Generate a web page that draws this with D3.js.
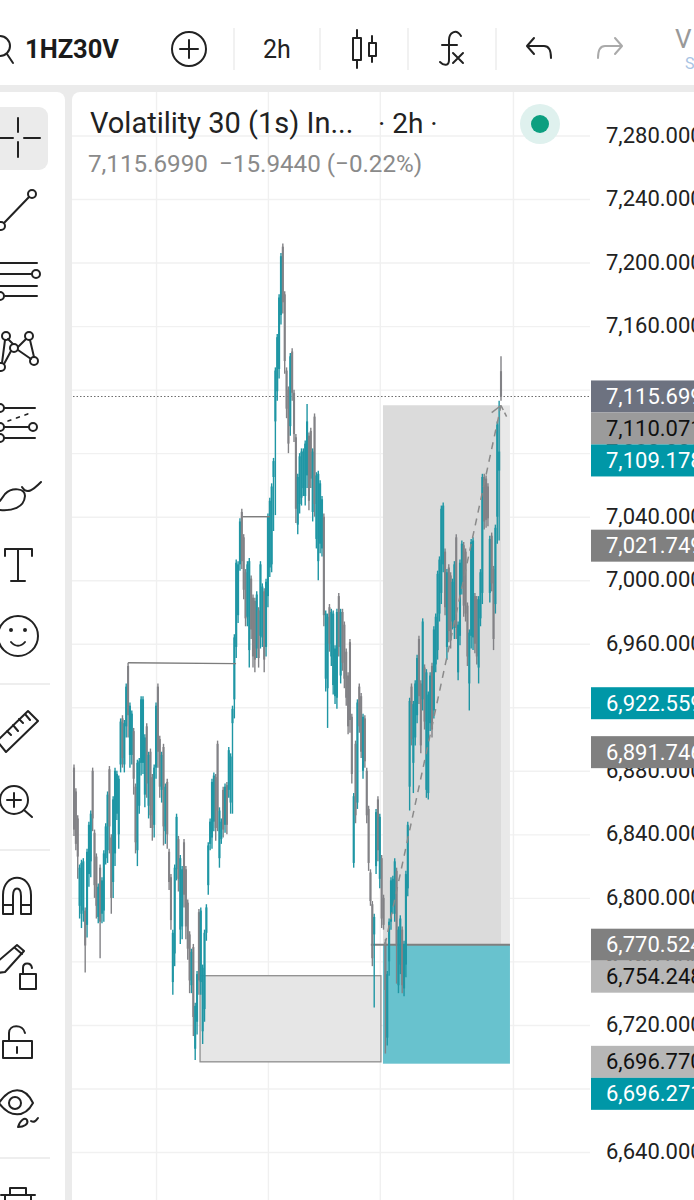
<!DOCTYPE html>
<html><head><meta charset="utf-8">
<script src="https://cdn.jsdelivr.net/npm/d3@7"></script>
<style>
html,body{margin:0;padding:0;background:#ebebeb;overflow:hidden}
svg{display:block;font-family:Roboto,sans-serif}
</style></head><body><div id="c"></div>
<script>
const highs=[
6884,6869,6852,6821,6824,6825,6794,6831,6848,6855,
6882,6843,6828,6809,6821,6813,6830,6847,6867,6883,
6840,6864,6882,6880,6877,6913,6915,6912,6935,6948,
6923,6918,6907,6872,6887,6888,6927,6927,6903,6910,
6892,6894,6878,6884,6923,6935,6902,6892,6897,6872,
6875,6831,6815,6780,6821,6853,6839,6827,6820,6837,
6820,6799,6779,6768,6771,6734,6754,6793,6794,6758,
6780,6796,6835,6850,6875,6879,6878,6899,6857,6850,
6870,6872,6873,6895,6891,6921,6966,7013,7012,7039,
7045,7029,7007,7012,7014,7003,6991,6989,6993,6983,
7012,6998,6995,7001,7042,7052,7061,7077,7134,7155,
7180,7206,7212,7182,7134,7122,7143,7146,7120,7092,
7067,7080,7083,7083,7088,7111,7093,7096,7083,7105,
7068,7069,7063,7053,7042,6981,6979,6985,6982,6981,
6959,6982,6992,6982,6982,6974,6957,6942,6963,6916,
6866,6899,6925,6935,6929,6916,6915,6882,6858,6818,
6798,6790,6856,6864,6853,6827,6802,6774,6754,6787,
6813,6814,6825,6819,6782,6789,6782,6773,6817,6848,
6926,6935,6924,6937,6953,6965,6937,6976,6947,6944,
6930,6942,6948,6971,6979,7006,7015,7047,7049,7020,
7007,7010,7005,7001,7012,7029,6974,7013,7025,7024,
7020,6986,6969,7026,7027,6992,6990,6990,7007,7067,
7067,7066,7061,7028,7030,7009,7035,7100,7113,7141];
const lows=[
6839,6830,6812,6787,6781,6785,6753,6775,6807,6813,
6842,6800,6787,6784,6762,6784,6785,6821,6822,6828,
6790,6800,6820,6849,6831,6879,6882,6879,6901,6901,
6882,6884,6865,6828,6820,6853,6877,6878,6857,6863,
6850,6844,6836,6838,6875,6882,6863,6860,6833,6834,
6831,6805,6780,6739,6757,6811,6804,6771,6774,6794,
6774,6761,6740,6740,6713,6698,6714,6739,6739,6708,
6722,6773,6802,6830,6831,6842,6836,6842,6819,6834,
6838,6841,6840,6863,6853,6853,6913,6951,6973,7006,
7007,6988,6971,6971,6945,6963,6945,6942,6951,6945,
6957,6958,6942,6952,6983,7002,7005,7031,7041,7113,
7127,7161,7168,7130,7102,7080,7091,7113,7087,7036,
7029,7042,7047,7053,7047,7058,7044,7058,7037,7040,
7020,7000,7017,7015,6971,6930,6907,6955,6946,6928,
6922,6919,6952,6935,6943,6932,6921,6903,6904,6872,
6819,6847,6856,6904,6888,6875,6882,6847,6817,6795,
6757,6731,6815,6823,6806,6781,6780,6702,6707,6751,
6780,6790,6785,6746,6740,6752,6740,6738,6750,6801,
6855,6896,6866,6896,6910,6922,6891,6918,6906,6863,
6862,6905,6901,6913,6942,6950,6974,6985,7005,6978,
6950,6961,6957,6969,6963,6963,6937,6959,6991,6977,
6974,6946,6918,6957,6956,6954,6947,6935,6971,6985,
7032,7033,7034,6986,6993,6956,6979,7023,7025,7113];
const opens=[
6882,6867,6850,6795,6790,6792,6792,6783,6815,6823,
6880,6841,6826,6788,6819,6790,6792,6825,6830,6881,
6838,6810,6828,6853,6840,6884,6913,6884,6908,6946,
6890,6890,6905,6870,6830,6858,6885,6885,6865,6908,
6858,6892,6876,6846,6882,6933,6900,6868,6895,6842,
6873,6829,6813,6747,6765,6818,6837,6780,6782,6835,
6818,6797,6777,6745,6769,6705,6722,6791,6747,6716,
6730,6778,6808,6834,6838,6848,6876,6897,6825,6837,
6868,6846,6871,6868,6860,6910,6925,6958,6978,7010,
7043,7027,7005,6977,6956,7001,6989,6987,6957,6981,
6965,6964,6993,6958,6990,7008,7010,7065,7100,7119,
7133,7167,7210,7180,7132,7120,7097,7144,7118,7090,
7035,7048,7052,7058,7053,7066,7091,7094,7043,7103,
7026,7012,7023,7020,7040,6938,6932,6983,6952,6934,
6927,6926,6990,6940,6980,6972,6955,6940,6961,6914,
6822,6897,6860,6933,6927,6880,6913,6880,6856,6816,
6796,6777,6820,6862,6812,6825,6800,6772,6712,6760,
6785,6795,6790,6817,6745,6758,6780,6743,6758,6806,
6870,6933,6885,6901,6915,6963,6935,6925,6945,6868,
6866,6910,6946,6918,6947,6956,6979,6992,7010,7018,
6958,7008,7003,6974,6970,7027,6942,6965,6996,7022,
7018,6984,6935,6965,6964,6990,6988,6945,6976,6992,
7065,7064,7059,6992,7028,7007,6985,7040,7069,7131.6];
const closes=[
6843,6834,6826,6819,6822,6823,6770,6829,6846,6853,
6850,6808,6795,6807,6785,6811,6828,6845,6865,6845,
6800,6862,6880,6878,6875,6911,6888,6910,6933,6915,
6921,6916,6875,6835,6885,6886,6925,6925,6901,6872,
6890,6852,6844,6882,6921,6892,6870,6890,6845,6870,
6840,6810,6786,6778,6819,6851,6812,6825,6818,6802,
6782,6768,6748,6766,6725,6732,6752,6748,6792,6756,
6778,6794,6833,6848,6873,6877,6844,6855,6855,6848,
6843,6870,6846,6893,6889,6919,6964,7011,7010,7037,
7012,6994,6976,7010,7012,6969,6952,6950,6991,6951,
7010,6996,6950,6999,7040,7050,7059,7075,7132,7153,
7178,7204,7175,7138,7108,7086,7141,7118,7092,7045,
7065,7078,7081,7081,7086,7100,7050,7064,7081,7048,
7066,7067,7061,7051,6978,6979,6977,6960,6980,6979,
6957,6980,6958,6980,6948,6938,6926,6908,6912,6878,
6864,6852,6923,6908,6892,6914,6886,6852,6822,6798,
6762,6788,6854,6830,6851,6787,6783,6742,6752,6785,
6811,6812,6823,6770,6780,6787,6745,6771,6815,6846,
6924,6900,6922,6935,6951,6927,6896,6974,6911,6942,
6928,6940,6906,6969,6977,7004,7013,7045,7047,6983,
7005,6968,6962,6999,7010,6970,6972,7011,7023,6984,
6979,6952,6967,7024,7025,6960,6952,6988,7005,7065,
7037,7038,7039,7026,6998,6963,7033,7098,7081,7115.7];

const tickPrices=[7280,7240,7200,7160,7120,7080,7040,7000,6960,6920,6880,6840,6800,6760,6720,6680,6640];
const verticalGridBars=[44,104,164,235.4];
const priceTags=[7115.699,7110.071,7109.178,7021.749,6922.559,6891.746,6770.524,6754.248,6696.770,6696.271];
const tagFills=["#6d7280","#9b9b9b","#0097a7","#808080","#0097a7","#808080","#808080","#b7b7b7","#b7b7b7","#0097a7"];
const tagInks=["#fff","#111","#fff","#fff","#fff","#fff","#fff","#111","#111","#fff"];

const W=694,H=1200;
const x=d3.scaleLinear().domain([0,highs.length-1]).range([74,501]);
const y=d3.scaleLinear().domain([7280,6640]).range([135.5,1152]);
const fmt=d3.format(",.3f");
const svg=d3.select("#c").append("svg").attr("width",W).attr("height",H);

// panels
svg.append("rect").attr("width",W).attr("height",H).attr("fill","#ebebeb");
svg.append("rect").attr("width",W).attr("height",85).attr("fill","#fff");
svg.append("rect").attr("x",-12).attr("y",92).attr("width",77).attr("height",1120).attr("rx",8).attr("fill","#fff");
svg.append("rect").attr("x",72).attr("y",92).attr("width",640).attr("height",1120).attr("rx",8).attr("fill","#fff");

// grid
const gy=svg.append("g").attr("transform","translate(72,0)")
 .call(d3.axisRight(y).tickValues(tickPrices).tickSize(518).tickFormat(""));
gy.select(".domain").remove();
gy.selectAll("line").attr("stroke","#f1f1f1").attr("stroke-width",1.4);
const gx=svg.append("g").attr("transform","translate(0,92)")
 .call(d3.axisBottom(x).tickValues(verticalGridBars).tickSize(1110).tickFormat(""));
gx.select(".domain").remove();
gx.selectAll("line").attr("stroke","#f0f0f0").attr("stroke-width",1.4);

// last-price dotted line
svg.append("line").attr("x1",73).attr("x2",590).attr("y1",y(closes[closes.length-1])).attr("y2",y(closes[closes.length-1]))
 .attr("stroke","#6d6d6d").attr("stroke-dasharray","1.5 2").attr("stroke-width",1.1);

// drawings under the candles
const rect=(i0,i1,p0,p1,f)=>svg.append("rect").attr("x",x(i0)).attr("width",x(i1)-x(i0)).attr("y",y(p0)).attr("height",y(p1)-y(p0)).attr("fill",f);
rect(165.7,233.8,7110.071,6770.524,"#e9e9e9");
rect(165.7,229,7110.071,6770.524,"#dbdbdb");
rect(67.6,164.6,6751,6696.77,"#e6e6e6").attr("stroke","#8e8e8e").attr("stroke-width",1.3);
rect(165.7,233.8,6770.524,6695.6,"#68c2ce");
svg.append("line").attr("x1",x(159.2)).attr("x2",x(233.8)).attr("y1",y(6770.524)).attr("y2",y(6770.524)).attr("stroke","#7f7f7f").attr("stroke-width",2);

// candles
const idx=d3.range(highs.length);
const col=i=>closes[i]>=opens[i]?"#1f96a4":"#828286";
svg.append("g").selectAll("line").data(idx).join("line")
 .attr("x1",x).attr("x2",x).attr("y1",i=>y(highs[i])).attr("y2",i=>y(lows[i]))
 .attr("stroke",col).attr("stroke-width",1.4);
svg.append("g").selectAll("rect").data(idx).join("rect")
 .attr("x",i=>x(i)-1.05).attr("width",2.1)
 .attr("y",i=>y(Math.max(opens[i],closes[i])))
 .attr("height",i=>Math.abs(y(opens[i])-y(closes[i])))
 .attr("fill",col);

// structure lines
const seg=(i0,p0,i1,p1)=>svg.append("line").attr("x1",x(i0)).attr("x2",x(i1)).attr("y1",y(p0)).attr("y2",y(p1)).attr("stroke","#7d7d7d").attr("stroke-width",1.4);
seg(29,6948,86.9,6947.5);
seg(90.6,7040,105,7040);
// projected path
seg(166.8,6770.5,229,7110).attr("stroke-dasharray","7 6").attr("stroke-width",1.5).attr("stroke","#8a8a8a");
seg(229,7110,224,7105.5).attr("stroke-width",1.5).attr("stroke","#8a8a8a");
seg(229,7110,232,7103).attr("stroke-dasharray","5 3").attr("stroke-width",1.5).attr("stroke","#8a8a8a");

// axis labels
const ga=svg.append("g").attr("transform","translate(606,0)")
 .call(d3.axisRight(y).tickValues(tickPrices).tickSize(0).tickPadding(0).tickFormat(fmt));
ga.select(".domain").remove();
ga.selectAll("text").attr("font-family","Roboto,sans-serif").attr("font-size",22).attr("fill","#222").attr("dy",".3em").attr("dx",0);

// price tags: stack downward when they would overlap
let prev=-1e9;
const tagY=priceTags.map(p=>{const v=Math.max(y(p),prev+32);prev=v;return v;});
const tg=svg.append("g").selectAll("g").data(priceTags).join("g").attr("transform",(d,i)=>`translate(591,${tagY[i]-16})`);
tg.append("rect").attr("width",110).attr("height",32).attr("fill",(d,i)=>tagFills[i]);
tg.append("text").attr("x",15).attr("y",23.6).attr("font-size",22).attr("fill",(d,i)=>tagInks[i]).text(d=>fmt(d));

// header text
const T=(s,xx,yy,fs,fill,w)=>svg.append("text").attr("x",xx).attr("y",yy).attr("font-size",fs).attr("fill",fill).attr("font-weight",w||400).text(s);
T("1HZ30V",25,58,25.5,"#1b1b1b",700);
T("2h",263,58,25,"#222");
T("V",675,48,26,"#999");
T("S",685,69,16,"#a9c4e4");
T("Volatility 30 (1s) In...",90,133,29,"#222");
T("· 2h ·",378,133,28,"#222");
T("7,115.6990",88,172,24.2,"#8a8a8a");
T("\u221215.9440 (\u22120.22%)",219,172,24.2,"#8a8a8a");
svg.append("circle").attr("cx",540).attr("cy",124).attr("r",20).attr("fill","#dff1ee");
svg.append("circle").attr("cx",540).attr("cy",124).attr("r",9).attr("fill","#0d9f80");

// tool highlight sits under the icons
svg.append("rect").attr("x",-10).attr("y",107).attr("width",58).attr("height",63).attr("rx",9).attr("fill","#ebebeb");

// toolbar icons
const ic=svg.append("g").attr("fill","none").attr("stroke","#222").attr("stroke-width",2).attr("stroke-linecap","round").attr("stroke-linejoin","round");
const P=(d,o)=>{const p=ic.append("path").attr("d",d);if(o)for(const k in o)p.attr(k,o[k]);return p;};
const C=(cx,cy,r)=>ic.append("circle").attr("cx",cx).attr("cy",cy).attr("r",r);
[234,320,408,496].forEach(v=>svg.append("line").attr("x1",v).attr("x2",v).attr("y1",28).attr("y2",70).attr("stroke","#ececec").attr("stroke-width",1.5));
C(0,46,10);P("M7 54L13 63");
C(189,49,17);P("M189 40V58M180 49H198");
P("M357 30V38M357 60V68M353 38H361V60H353ZM372 36V43M372 56V62M369 43H376V56H369Z");
P("M461 36C456 28 449 33 449 40V60C449 66 444 66 440 62M442 45H457M453 53L463 63M463 53L453 63");
P("M527 46L534 38M527 46L534 54M527 46H544C549 46 551 51 551 58");
P("M622 46L615 38M622 46L615 54M622 46H605C600 46 598 51 598 58",{stroke:"#aaa"});

// left tool icons
P("M18 118V132M18 142V157M0 138H13M24 138H40");
C(32,194,4);C(1,226,4);P("M29 197L4 223");
P("M0 263H37M0 274H32M0 286H37M5 296H37");C(36,274,4);C(0,296,4);
C(6,336,4);C(29,336,4);C(14,348,4);C(34,361,4);C(1,367,4);
P("M5 340L2 363M8 339L13 344M18 347L26 339M30 340L34 357M18 350L31 359M11 351L4 364");
P("M4 408H35M4 427H29M4 438H35");C(0,408,4);C(33,427,4);C(0,427,4);C(0,438,4);
P("M8 421L33 412",{"stroke-dasharray":"3 6","stroke-width":1.6});
P("M0 510C12 511 24 508 25 496C25 488 12 487 5 494L0 501M22 487C27 495 33 490 41 482");
P("M5 556V549H32V556M18 549V580M11 581H25");
C(18,636,20);C(11,630,1);C(25,630,1);P("M11 642C15 647 21 647 25 642");
svg.append("line").attr("x1",0).attr("x2",50).attr("y1",684).attr("y2",684).attr("stroke","#eee").attr("stroke-width",2);
P("M-3 741L28 711L38 721L6 752ZM7 731L11 735M13 725L18 731M19 719L23 723M25 714L30 720");
C(14,800,14);P("M14 793V807M7 800H21M24 810L32 817");
svg.append("line").attr("x1",0).attr("x2",50).attr("y1",850).attr("y2",850).attr("stroke","#eee").attr("stroke-width",2);
P("M3 914V895C3 872 31 872 31 895V914H21V896C21 886 13 886 13 896V914ZM3 905H13M21 905H31");
P("M-3 962L17 945L24 951L5 972L-3 973ZM15 948L22 954");
P("M20 974H36V989H20ZM23 974V968C23 962 31 962 32 968");
P("M3 1041H32V1058H3ZM9 1041V1033C9 1024 23 1024 25 1033M17 1047V1053");
P("M-1 1103C10 1086 25 1086 33 1103C25 1118 10 1118 -1 1103Z");C(15,1103,6);
P("M18 1127C24 1127 29 1124 27 1120C25 1117 20 1120 18 1127ZM31 1121C34 1123 36 1121 38 1118");
svg.append("line").attr("x1",0).attr("x2",50).attr("y1",1158).attr("y2",1158).attr("stroke","#eee").attr("stroke-width",2);
P("M1 1195H35M10 1195V1188H26V1195M5 1195V1205M31 1195V1205");
</script></body></html>
